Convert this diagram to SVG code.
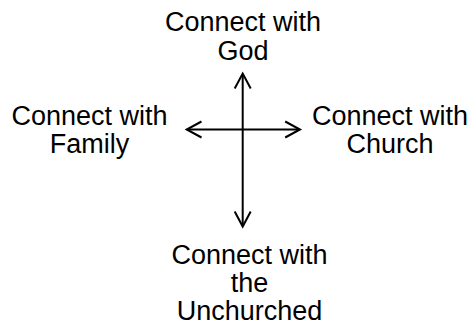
<svg xmlns="http://www.w3.org/2000/svg" width="470" height="329" viewBox="0 0 470 329">
<style>
text{font-family:"Liberation Sans",Arial,sans-serif;font-size:27px;fill:#000;text-anchor:middle}
.ln{stroke:#000;stroke-width:2;fill:none}
.hd{stroke:#000;stroke-width:2;fill:none;stroke-linejoin:miter}
</style>
<rect width="470" height="329" fill="#fff"/>
<g id="connectors">
<line class="ln" x1="242.7" y1="74" x2="242.7" y2="226"/>
<line class="ln" x1="188" y1="129.5" x2="299" y2="129.5"/>
<polyline class="hd" points="234.7,88.5 242.7,73.5 250.7,88.5"/>
<polyline class="hd" points="234.7,211.5 242.7,226.5 250.7,211.5"/>
<polyline class="hd" points="201.5,121.5 186.7,129.5 201.5,137.5"/>
<polyline class="hd" points="285.2,121.5 300,129.5 285.2,137.5"/>
</g>
<g id="node-god">
<text x="243" y="31">Connect with</text>
<text x="243" y="59.5">God</text>
</g>
<g id="node-family">
<text x="89.5" y="124.8">Connect with</text>
<text x="89.5" y="153">Family</text>
</g>
<g id="node-church">
<text x="390" y="124.8">Connect with</text>
<text x="390" y="153">Church</text>
</g>
<g id="node-unchurched">
<text x="249.5" y="264">Connect with</text>
<text x="249.5" y="292">the</text>
<text x="249.5" y="319.8">Unchurched</text>
</g>
</svg>
